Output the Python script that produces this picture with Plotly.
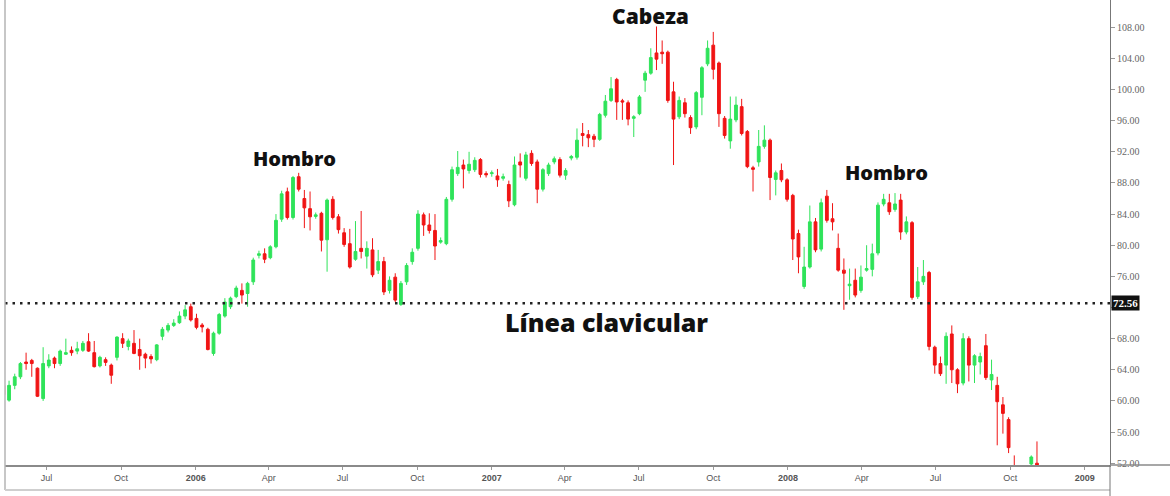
import pandas as pd
import plotly.graph_objects as go

# weekly candles, first week starting 2005-05-09
week_start = "2005-05-09"

opens = [
    62.0, 60.1, 62.0, 63.1, 65.0, 65.2, 64.2, 60.3, 64.5, 65.5,
    64.8, 66.0, 66.5, 66.4, 66.5, 67.6, 66.2, 64.5, 65.3, 64.6,
    65.6, 68.0, 67.0, 67.4, 66.6, 66.0, 65.7, 65.3, 68.3, 69.1,
    69.7, 70.05, 70.9, 72.1, 70.6, 69.75, 69.2, 66.1, 68.7, 70.9,
    72.1, 73.4, 74.2, 73.8, 75.3, 78.7, 78.9, 78.4, 79.8, 83.35,
    86.86, 83.56, 88.8, 86.0, 84.7, 83.7, 84.1, 80.7, 85.9, 83.65,
    81.6, 80.2, 78.2, 79.6, 78.6, 79.4, 76.8, 77.9, 74.2, 75.9,
    72.4, 75.3, 77.9, 79.6, 83.9, 82.6, 81.9, 80.4, 80.2, 85.9,
    89.2, 90.3, 89.6, 89.7, 91.0, 89.2, 89.2, 88.9, 88.6, 87.8,
    85.2, 90.7, 88.6, 91.8, 90.7, 87.2, 89.2, 90.7, 91.0, 89.0,
    91.2, 91.3, 94.35, 94.2, 94.0, 93.6, 96.7, 98.6, 101.3, 98.55,
    98.3, 96.3, 96.9, 101.2, 102.1, 104.7, 104.8, 104.8, 99.7, 96.5,
    98.3, 96.4, 95.2, 99.0, 103.3, 105.7, 103.4, 96.3, 93.4, 96.1,
    97.8, 94.6, 89.95, 90.7, 92.7, 93.5, 88.45, 89.6, 88.4, 86.4,
    81.5, 74.7, 77.2, 83.0, 79.5, 86.3, 83.4, 79.6, 76.8, 74.8,
    75.5, 74.2, 76.8, 76.9, 79.0, 85.3, 85.45, 84.6, 85.8, 81.7,
    82.9, 73.4, 75.3, 76.5, 66.9, 64.8, 64.6, 68.6, 64.0, 62.3,
    68.0, 64.6, 65.0, 67.1, 62.7, 62.0, 59.5, 57.6, 51.6, 49.5,
    47.5, 51.9, 52.0,
]
highs = [
    62.2, 62.6, 63.5, 65.0, 66.2, 65.4, 64.3, 66.9, 66.0, 65.7,
    66.6, 68.0, 67.0, 67.6, 67.7, 68.7, 67.7, 65.8, 65.6, 64.8,
    68.3, 68.7, 68.0, 69.1, 68.0, 66.2, 66.0, 67.3, 69.5, 70.0,
    70.5, 71.5, 72.3, 72.5, 71.2, 70.0, 69.4, 68.9, 71.3, 73.2,
    73.4, 74.8, 75.1, 75.3, 78.4, 79.3, 79.6, 80.0, 84.0, 87.0,
    87.4, 88.9, 89.3, 87.1, 86.9, 84.2, 84.3, 86.0, 86.3, 84.0,
    82.2, 82.1, 83.1, 84.4, 80.5, 80.9, 79.4, 78.5, 76.0, 76.4,
    75.4, 77.7, 79.6, 84.5, 84.2, 84.1, 84.0, 81.0, 86.2, 90.1,
    92.1, 91.0, 92.0, 91.3, 91.2, 89.5, 89.6, 89.8, 89.2, 88.3,
    91.4, 91.8, 92.0, 92.2, 91.0, 89.9, 90.6, 91.4, 91.3, 89.9,
    91.6, 95.0, 95.7, 94.8, 94.3, 97.0, 99.3, 101.6, 101.5, 98.8,
    98.6, 96.7, 99.3, 102.4, 105.3, 108.1, 106.3, 105.0, 101.0, 99.1,
    98.9, 96.7, 99.8, 103.0, 106.3, 107.4, 103.6, 96.6, 99.1, 99.1,
    98.8, 94.8, 90.2, 94.8, 95.4, 93.7, 89.6, 90.5, 88.6, 86.6,
    82.0, 79.8, 85.1, 83.5, 86.0, 87.1, 85.4, 81.5, 78.3, 77.0,
    77.0, 77.4, 80.0, 80.2, 85.5, 86.6, 86.6, 86.7, 86.6, 83.7,
    83.1, 77.2, 78.1, 76.7, 67.1, 65.7, 68.8, 69.7, 64.2, 68.7,
    68.3, 66.0, 66.2, 68.6, 65.3, 63.1, 60.5, 57.9, 53.0, 50.5,
    51.2, 53.0, 54.8,
]
lows = [
    60.5, 59.9, 61.5, 62.8, 64.0, 63.1, 60.5, 60.0, 64.2, 64.2,
    64.5, 65.9, 65.8, 66.0, 66.3, 66.3, 64.3, 64.3, 64.5, 62.2,
    65.2, 66.8, 66.5, 66.0, 64.0, 64.2, 64.8, 65.1, 67.8, 68.8,
    69.5, 69.9, 70.5, 70.2, 69.2, 68.8, 66.5, 65.8, 68.5, 70.7,
    71.8, 73.2, 72.5, 72.1, 74.9, 78.3, 77.7, 78.2, 79.6, 83.0,
    83.3, 83.3, 86.9, 82.2, 81.9, 83.4, 79.2, 76.6, 83.3, 81.5,
    79.8, 77.0, 78.0, 78.3, 77.0, 75.9, 76.3, 73.6, 73.8, 72.7,
    72.2, 74.9, 77.5, 79.3, 81.2, 81.5, 78.1, 80.2, 80.0, 85.6,
    88.9, 87.3, 89.2, 89.4, 88.7, 88.7, 88.8, 87.5, 88.3, 84.9,
    85.0, 88.7, 88.3, 90.2, 85.4, 86.9, 88.9, 90.4, 88.7, 88.4,
    90.9, 91.0, 92.7, 92.6, 92.6, 93.4, 96.4, 98.4, 96.1, 96.1,
    95.4, 93.9, 96.7, 99.7, 101.9, 102.5, 103.3, 98.3, 90.3, 96.2,
    96.4, 94.3, 94.9, 96.7, 103.0, 101.3, 95.2, 93.7, 92.4, 95.8,
    94.1, 89.9, 86.9, 90.1, 92.4, 85.8, 86.4, 88.1, 85.6, 78.1,
    76.4, 74.4, 77.0, 79.1, 79.2, 82.9, 81.9, 76.6, 71.7, 73.0,
    73.3, 73.9, 76.6, 76.0, 78.7, 85.0, 83.9, 84.3, 80.7, 81.4,
    73.0, 73.1, 74.9, 66.5, 63.5, 63.2, 62.2, 62.3, 61.0, 62.0,
    62.5, 62.3, 63.4, 62.7, 61.4, 54.3, 55.8, 53.3, 48.5, 46.0,
    47.0, 51.0, 51.0,
]
closes = [
    60.8, 62.0, 63.1, 64.8, 64.8, 64.8, 60.6, 64.8, 65.25, 64.8,
    66.4, 66.2, 66.2, 66.7, 67.4, 66.4, 64.4, 65.6, 64.95, 63.3,
    68.2, 67.4, 67.7, 66.1, 65.8, 65.5, 65.4, 67.2, 69.2, 69.7,
    70.0, 70.9, 71.7, 70.4, 69.45, 69.5, 66.6, 68.7, 71.1, 72.7,
    73.2, 74.5, 73.6, 75.1, 78.1, 78.9, 78.2, 79.8, 83.2, 86.6,
    83.56, 88.7, 87.2, 84.8, 83.65, 83.9, 80.65, 85.8, 83.56, 82.0,
    80.1, 77.2, 79.2, 79.2, 79.6, 76.2, 77.9, 74.0, 75.5, 72.95,
    75.1, 77.4, 79.1, 84.0, 82.6, 81.9, 79.9, 80.6, 85.9, 89.7,
    90.0, 89.8, 90.4, 90.9, 89.1, 89.05, 89.3, 88.4, 88.8, 85.7,
    90.3, 90.3, 91.6, 90.5, 87.2, 89.7, 90.3, 91.1, 89.0, 89.6,
    91.4, 93.5, 94.1, 93.8, 93.6, 96.8, 98.5, 100.1, 98.4, 98.4,
    96.2, 96.5, 99.05, 102.1, 104.1, 103.9, 104.6, 98.6, 96.2, 98.6,
    96.9, 95.1, 99.6, 102.8, 105.3, 102.6, 96.9, 94.1, 96.2, 98.0,
    94.35, 90.1, 89.75, 92.7, 93.5, 88.7, 89.3, 88.4, 85.9, 80.8,
    78.5, 77.2, 83.0, 79.4, 85.45, 83.2, 83.0, 76.8, 76.4, 75.0,
    73.6, 75.9, 77.0, 78.9, 85.15, 85.9, 84.3, 85.3, 81.7, 83.0,
    73.3, 75.3, 76.0, 67.0, 64.6, 63.5, 68.3, 64.0, 62.2, 68.0,
    64.6, 65.8, 65.7, 63.0, 63.4, 59.9, 58.4, 54.0, 49.5, 47.5,
    50.5, 52.8, 51.5,
]

dates = pd.date_range(week_start, periods=len(closes), freq="7D")

# eje x
tick_dates = ["2005-07-01", "2005-10-01", "2006-01-01", "2006-04-01", "2006-07-01",
              "2006-10-01", "2007-01-01", "2007-04-01", "2007-07-01", "2007-10-01",
              "2008-01-01", "2008-04-01", "2008-07-01", "2008-10-01", "2009-01-01"]
tick_labels = ["Jul", "Oct", "<b>2006</b>", "Apr", "Jul", "Oct", "<b>2007</b>", "Apr",
               "Jul", "Oct", "<b>2008</b>", "Apr", "Jul", "Oct", "<b>2009</b>"]

# eje y (72.00 queda tapado por la etiqueta de la línea clavicular)
price_ticks = list(range(52, 109, 4))
price_labels = ["" if v == 72 else "%.2f" % v for v in price_ticks]

# línea clavicular
neckline = 72.56

# textos del patrón
label_texts = ["Hombro", "Cabeza", "Hombro", "Línea clavicular"]
label_dates = ["2006-05-03", "2007-07-16", "2008-05-01", "2007-05-22"]
label_prices = [91.2, 109.4, 89.4, 70.1]
label_sizes = [20, 21, 20, 25]

GREEN = "#2fe35a"
RED = "#f01414"
AXIS_GREY = "#9a9a9a"

fig = go.Figure(
    go.Candlestick(
        x=dates,
        open=opens,
        high=highs,
        low=lows,
        close=closes,
        increasing=dict(line=dict(color=GREEN, width=1), fillcolor=GREEN),
        decreasing=dict(line=dict(color=RED, width=1), fillcolor=RED),
        whiskerwidth=0,
        showlegend=False,
    )
)

fig.add_shape(
    type="line", xref="paper", x0=0, x1=1, yref="y", y0=neckline, y1=neckline,
    line=dict(color="#222222", width=2.5, dash="2.5px,5px"),
)
# bordes del gráfico
fig.add_shape(type="line", xref="paper", yref="paper", x0=0, x1=0, y0=-0.054, y1=1,
              line=dict(color="#b5b5b5", width=1.5))
fig.add_shape(type="line", xref="paper", yref="paper", x0=0, x1=1, y0=-0.054, y1=-0.054,
              line=dict(color="#cfcfcf", width=2))
fig.add_shape(type="line", xref="paper", yref="paper", x0=1, x1=1, y0=-0.07, y1=0,
              line=dict(color="#777777", width=1))
fig.add_shape(type="line", xref="paper", yref="paper", x0=1, x1=1.055, y0=0, y1=0,
              line=dict(color="#8a8a8a", width=1.5))

for txt, d, p, s in zip(label_texts, label_dates, label_prices, label_sizes):
    fig.add_annotation(
        x=d, y=p, text=txt, showarrow=False,
        font=dict(family="Open Sans, DejaVu Sans, sans-serif", size=s,
                  color="#111111", weight=800),
    )

fig.add_annotation(
    xref="paper", x=1, xanchor="left", xshift=1, y=neckline, yref="y",
    text="<b>%.2f</b>" % neckline, showarrow=False, bgcolor="#111111",
    font=dict(family="Liberation Serif, serif", size=11, color="white"), borderpad=1,
)

fig.update_layout(
    width=1170,
    height=496,
    margin=dict(l=5, r=60, t=0, b=31),
    paper_bgcolor="white",
    plot_bgcolor="white",
    xaxis=dict(
        type="date",
        range=["2005-05-11", "2009-02-01"],
        rangeslider=dict(visible=False),
        tickvals=tick_dates,
        ticktext=tick_labels,
        ticks="outside",
        ticklen=3,
        tickcolor=AXIS_GREY,
        showgrid=False,
        showline=True,
        linecolor="#8a8a8a",
        linewidth=1.5,
        zeroline=False,
        tickfont=dict(family="Liberation Sans, sans-serif", size=9, color="#555555"),
    ),
    yaxis=dict(
        side="right",
        range=[51.77, 111.5],
        tickvals=price_ticks,
        ticktext=price_labels,
        ticks="outside",
        ticklen=4,
        tickcolor=AXIS_GREY,
        showgrid=False,
        showline=True,
        linecolor="#777777",
        linewidth=1,
        zeroline=False,
        tickfont=dict(family="Liberation Serif, serif", size=10, color="#666666"),
    ),
)

# la página trae un margen de 8px en el body; se quita para que el gráfico ocupe toda la ventana
fig.write_html(
    "out.html",
    config={"displayModeBar": False},
    post_script="document.body.style.margin='0';",
)
